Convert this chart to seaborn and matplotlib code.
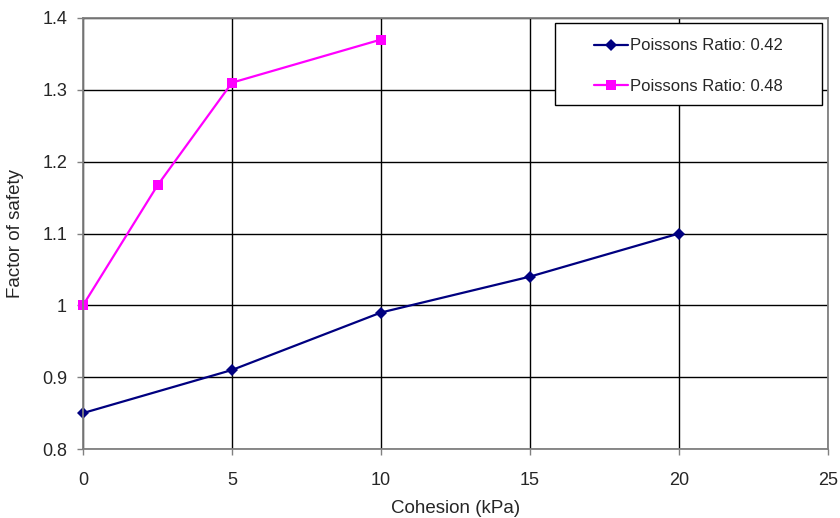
import numpy as np
import pandas as pd
import matplotlib
matplotlib.use("Agg")
import matplotlib.pyplot as plt
import matplotlib.patches as mpatches
import seaborn as sns

# data
cohesion_042 = [0, 5, 10, 15, 20]
fos_042 = [0.85, 0.91, 0.99, 1.04, 1.10]
cohesion_048 = [0, 2.5, 5, 10]
fos_048 = [1.00, 1.167, 1.31, 1.37]
labels = ["Poissons Ratio: 0.42", "Poissons Ratio: 0.48"]

df = pd.concat([
    pd.DataFrame({"Cohesion": cohesion_042, "FoS": fos_042, "series": labels[0]}),
    pd.DataFrame({"Cohesion": cohesion_048, "FoS": fos_048, "series": labels[1]}),
])

sns.set_style("white")
plt.rcParams['font.family'] = ['Liberation Sans', 'DejaVu Sans']

fig = plt.figure(figsize=(8.4, 5.18), dpi=100)
ax = fig.add_axes([83/840, 1 - 449/518, (828 - 83)/840, (449 - 18)/518])

sns.lineplot(data=df, x="Cohesion", y="FoS", hue="series", style="series",
             palette={labels[0]: "#000080", labels[1]: "#FF00FF"},
             markers={labels[0]: "D", labels[1]: "s"}, dashes=False,
             markersize=7.5, linewidth=1.6, markeredgewidth=0, ax=ax)

ax.set_xlim(0, 25)
ax.set_ylim(0.8, 1.4)
ax.set_xticks(np.arange(0, 26, 5))
ax.set_yticks(np.round(np.arange(0.8, 1.41, 0.1), 1))
ax.set_yticklabels(["0.8", "0.9", "1", "1.1", "1.2", "1.3", "1.4"])
ax.grid(True, color="black", linewidth=1.0)
ax.set_axisbelow(True)
for s in ax.spines.values():
    s.set_color("#808080")
    s.set_linewidth(1.3)
ax.tick_params(axis="both", direction="out", length=4.5, width=1, color="#808080",
               labelsize=13, bottom=True, left=True)
ax.tick_params(axis="x", pad=12)
ax.tick_params(axis="y", pad=7)
ax.set_xlabel("Cohesion (kPa)", fontsize=13.5, labelpad=8)
ax.set_ylabel("Factor of safety", fontsize=13.5, labelpad=13)

for line in ax.get_lines():
    line.set_clip_on(False)
    if line.get_marker() == "D":
        line.set_markersize(6.5)

# legend box drawn as its own rectangle so it can be wider than the entries
box = mpatches.Rectangle((0.6336, 0.798), 0.992 - 0.6336, 0.988 - 0.798,
                         transform=ax.transAxes, facecolor="white",
                         edgecolor="black", linewidth=1.0, zorder=4)
ax.add_patch(box)
leg = ax.legend(loc="center", bbox_to_anchor=(0.8128, 0.888), fontsize=12,
                frameon=False, borderpad=0.0, labelspacing=1.55,
                handlelength=2.0, handletextpad=0.15)
leg.set_zorder(5)

fig.savefig("out.png", dpi=100)
